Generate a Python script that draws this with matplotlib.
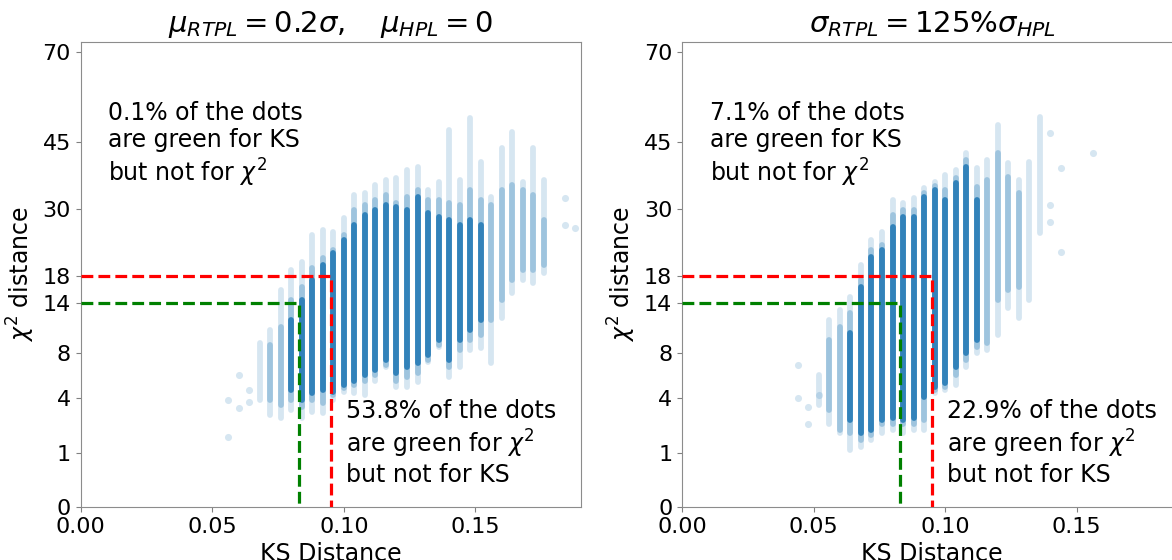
import numpy as np
import matplotlib
matplotlib.use('Agg')
import matplotlib.pyplot as plt

nan = np.nan

# --- data (chi2 values per KS column, step 0.004) ---
left_ks = [0.068, 0.072, 0.076, 0.080, 0.084, 0.088, 0.092, 0.096, 0.100, 0.104,
           0.108, 0.112, 0.116, 0.120, 0.124, 0.128, 0.132, 0.136, 0.140, 0.144,
           0.148, 0.152, 0.156, 0.160, 0.164, 0.168, 0.172, 0.176]
left_lo = [3.85, 2.85, 2.7, 3.2, 2.7, 3.05, 3.0, 3.85, 4.5, 4.4, 4.2, 5.4, 6.6, 4.85,
           4.85, 5.3, 7.1, 8.6, 5.7, 6.6, 8.3, 8.5, 7.0, 12.0, 15.4, 17.4, 16.9, 18.5]
left_hi = [9.1, 10.6, 15.9, 18.9, 20.2, 24.9, 25.9, 25.5, 28.2, 32.8, 33.2, 35.0,
           36.1, 36.5, 38.3, 39.0, 33.9, 35.6, 47.9, 36.1, 51.0, 40.1, 32.4, 43.5,
           47.4, 35.6, 43.5, 36.1]
left_mid_lo = [nan, 3.85, 3.5, 3.85, 3.4, 3.85, 3.65, 4.2, 4.8, 5.0, 5.4, 5.9, 6.8, 5.4,
               5.7, 6.05, 7.3, 8.85, 6.6, 8.3, 9.4, 10.0, 11.8, 14.4, 17.4, 18.9, 18.9, 19.7]
left_mid_hi = [nan, 8.85, 10.9, 14.4, 16.3, 19.3, 20.9, 22.3, 24.9, 29.7, 30.8, 31.8,
               32.8, 31.2, 32.4, 33.9, 31.8, 31.8, 31.2, 30.8, 33.9, 31.8, 30.8, 33.9,
               35.0, 33.9, 32.8, 27.8]
left_core_lo = [nan, nan, nan, 4.6, 3.85, 4.4, 4.6, 4.5, 5.0, 5.4, 5.9, 6.3, 7.3, 6.05,
                6.6, 7.0, 7.8, 9.4, 7.3, 9.4, 10.6, 11.8, nan, nan, nan, nan, nan, nan]
left_core_hi = [nan, nan, nan, 11.8, 14.4, 17.4, 19.7, 21.8, 24.0, 26.8, 28.7, 29.7,
                30.8, 30.3, 29.7, 32.4, 29.1, 28.4, 27.8, 26.8, 27.8, 26.8, nan, nan,
                nan, nan, nan, nan]
left_dots_ks = [0.056, 0.056, 0.060, 0.060, 0.064, 0.064, 0.184, 0.184, 0.188]
left_dots_chi = [3.85, 1.65, 5.9, 3.3, 4.6, 3.7, 32.2, 26.8, 26.2]

right_ks = [0.052, 0.056, 0.060, 0.064, 0.068, 0.072, 0.076, 0.080, 0.084, 0.088,
            0.092, 0.096, 0.100, 0.104, 0.108, 0.112, 0.116, 0.120, 0.124, 0.128,
            0.132, 0.136]
right_lo = [3.5, 2.3, 1.85, 1.1, 1.2, 1.5, 1.85, 2.0, 1.85, 2.0, 2.0, 4.4, 4.6, 5.0,
            6.6, 8.0, 8.3, 10.0, 13.4, 12.0, 14.4, 25.3]
right_hi = [5.9, 11.8, 13.1, 14.9, 19.7, 24.0, 25.5, 31.8, 31.2, 32.2, 34.3, 35.6,
            37.2, 38.3, 42.3, 38.7, 40.6, 49.2, 39.9, 36.1, 40.1, 51.3]
right_mid_lo = [nan, 3.2, 2.0, 1.85, 1.5, 1.75, 2.3, 2.3, 2.3, 2.3, 2.55, 4.6, 4.85, 5.9,
                7.3, 8.6, 9.1, 14.4, 15.9, 16.3, nan, nan]
right_mid_hi = [nan, 9.4, 10.9, 12.7, 17.4, 22.3, 23.1, 28.7, 29.7, 29.7, 33.2, 34.7,
                33.9, 36.5, 40.6, 34.5, 36.1, 42.3, 36.8, 33.2, nan, nan]
right_core_lo = [nan, nan, nan, 2.55, 1.85, 2.0, 2.55, 2.7, 2.55, 2.7, 4.1, 4.85, 5.2, 6.6,
                 8.0, 9.4, nan, nan, nan, nan, nan, nan]
right_core_hi = [nan, nan, nan, 10.2, 16.3, 21.1, 22.3, 26.4, 28.4, 28.4, 32.4, 33.9,
                 31.8, 35.4, 39.0, 31.8, nan, nan, nan, nan, nan, nan]
right_dots_ks = [0.044, 0.044, 0.048, 0.048, 0.052, 0.140, 0.140, 0.140, 0.144, 0.144, 0.156]
right_dots_chi = [6.8, 4.0, 3.4, 2.3, 4.2, 47.2, 30.8, 27.4, 38.7, 21.9, 42.3]

# thresholds
ks_green, ks_red = 0.083, 0.095
chi_green, chi_red = 14, 18

yticks = [0, 1, 4, 8, 14, 18, 30, 45, 70]
xticks = [0.00, 0.05, 0.10, 0.15]

titles = [r'$\mu_{RTPL} = 0.2\sigma, \quad \mu_{HPL} = 0$',
          r'$\sigma_{RTPL} = 125\%\sigma_{HPL}$']
top_texts = ['0.1% of the dots\nare green for KS\nbut not for $\\chi^2$',
             '7.1% of the dots\nare green for KS\nbut not for $\\chi^2$']
bottom_texts = ['53.8% of the dots\nare green for $\\chi^2$\nbut not for KS',
                '22.9% of the dots\nare green for $\\chi^2$\nbut not for KS']


def fwd(v):
    return np.sqrt(np.clip(v, 0, None))


def inv(u):
    return np.square(u)


def draw_panel(ax, ks, lo, hi, mlo, mhi, clo, chi, dks, dchi, title, ttop, tbot):
    c = '#1f77b4'
    ax.set_yscale('function', functions=(fwd, inv))
    # faint outer spread, medium band, dense core of each KS column
    layers = [(lo, hi, 0.18), (mlo, mhi, 0.3), (clo, chi, 0.85)]
    for a, b, alpha in layers:
        lc = ax.vlines(ks, a, b, color=c, alpha=alpha, lw=4.2)
        lc.set_capstyle('round')
    ax.scatter(dks, dchi, s=26, color=c, alpha=0.18, linewidths=0)

    ax.plot([0, ks_red, ks_red], [chi_red, chi_red, 0], '--', color='red', lw=2.3, zorder=5)
    ax.plot([0, ks_green, ks_green], [chi_green, chi_green, 0], '--', color='green', lw=2.3, zorder=5)

    ax.set_xlim(0, 0.19)
    ax.set_ylim(0, 73)
    ax.set_yticks(yticks)
    ax.set_yticklabels([str(t) for t in yticks])
    ax.set_xticks(xticks)
    ax.set_xticklabels(['%.2f' % t for t in xticks])
    ax.tick_params(labelsize=16, color='0.5')
    for s in ax.spines.values():
        s.set_color('0.55')
    ax.set_xlabel('KS Distance', fontsize=17, labelpad=4)
    ax.set_ylabel(r'$\chi^2$ distance', fontsize=17, labelpad=4)
    ax.set_title(title, fontsize=21, pad=7)
    ax.text(0.055, 0.873, ttop, transform=ax.transAxes, fontsize=17, va='top',
            linespacing=1.17)
    ax.text(0.53, 0.232, tbot, transform=ax.transAxes, fontsize=17, va='top',
            linespacing=1.17)


fig = plt.figure(figsize=(11.72, 5.6), dpi=100)
ax1 = fig.add_axes([80.7 / 1172, 53 / 560, 500 / 1172, 465 / 560])
ax2 = fig.add_axes([682 / 1172, 53 / 560, 500 / 1172, 465 / 560])

draw_panel(ax1, left_ks, left_lo, left_hi, left_mid_lo, left_mid_hi, left_core_lo,
           left_core_hi, left_dots_ks, left_dots_chi, titles[0], top_texts[0],
           bottom_texts[0])
draw_panel(ax2, right_ks, right_lo, right_hi, right_mid_lo, right_mid_hi, right_core_lo,
           right_core_hi, right_dots_ks, right_dots_chi, titles[1], top_texts[1],
           bottom_texts[1])

fig.savefig('out.png', dpi=100)
